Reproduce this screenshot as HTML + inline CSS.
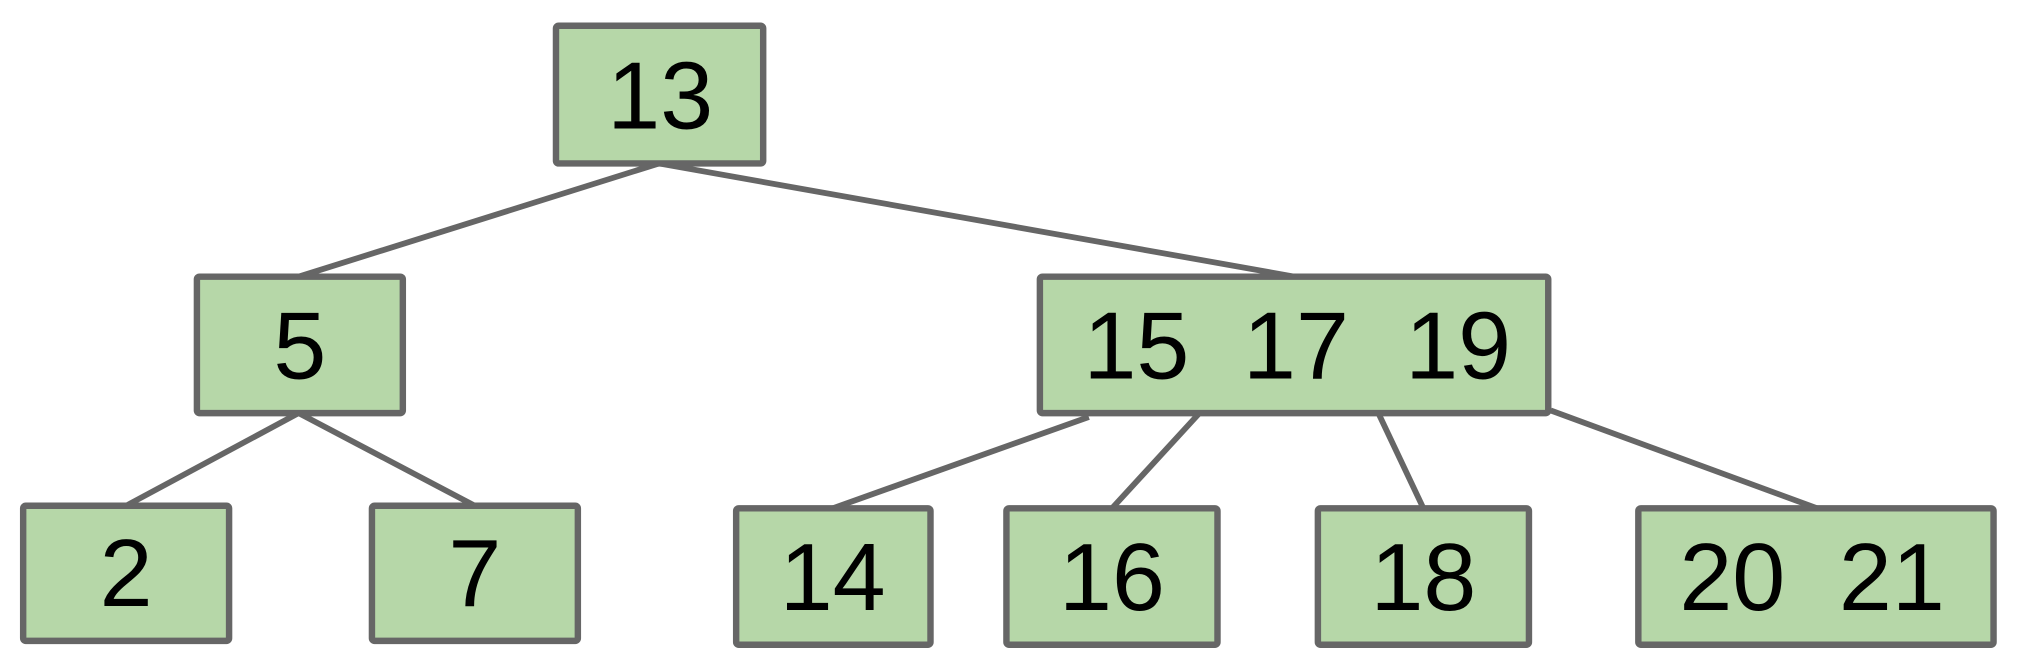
<!DOCTYPE html>
<html><head><meta charset="utf-8"><style>html,body{margin:0;padding:0;background:#fff;}svg{display:block}</style></head>
<body>
<svg width="2018" height="658" viewBox="0 0 1568 511.3" preserveAspectRatio="none" xmlns="http://www.w3.org/2000/svg">
<g stroke="#666" stroke-width="4.5" fill="none">
<line x1="512" y1="127" x2="232" y2="215"/>
<line x1="512" y1="127" x2="1006" y2="215"/>
<line x1="232" y1="321" x2="98" y2="393"/>
<line x1="232" y1="321" x2="369" y2="393"/>
<line x1="846" y1="324" x2="647" y2="395"/>
<line x1="932" y1="321" x2="864" y2="395"/>
<line x1="1071" y1="321" x2="1106" y2="395"/>
<line x1="1205" y1="319" x2="1412" y2="395"/>
</g>
<g stroke="#666" stroke-width="5" fill="#b6d7a8" stroke-linejoin="round">
<rect x="432" y="20" width="161" height="107" rx="2"/>
<rect x="153" y="215" width="160" height="106" rx="2"/>
<rect x="808" y="215" width="395" height="106" rx="2"/>
<rect x="18" y="393" width="160" height="105" rx="2"/>
<rect x="289" y="393" width="160" height="105" rx="2"/>
<rect x="572" y="395" width="151" height="106" rx="2"/>
<rect x="782" y="395" width="164" height="106" rx="2"/>
<rect x="1024" y="395" width="164" height="106" rx="2"/>
<rect x="1273" y="395" width="276" height="106" rx="2"/>
</g>
<g font-family="Liberation Sans, Arial, sans-serif" font-size="74" fill="#000" text-anchor="middle">
<text x="513" y="100">13</text>
<text x="233" y="294">5</text>
<text x="883" y="294">15</text>
<text x="1007" y="294">17</text>
<text x="1133" y="294">19</text>
<text x="98" y="471">2</text>
<text x="369" y="471">7</text>
<text x="647" y="474">14</text>
<text x="864" y="474">16</text>
<text x="1106" y="474">18</text>
<text x="1346" y="474">20</text>
<text x="1470" y="474">21</text>
</g>
</svg>
</body></html>
